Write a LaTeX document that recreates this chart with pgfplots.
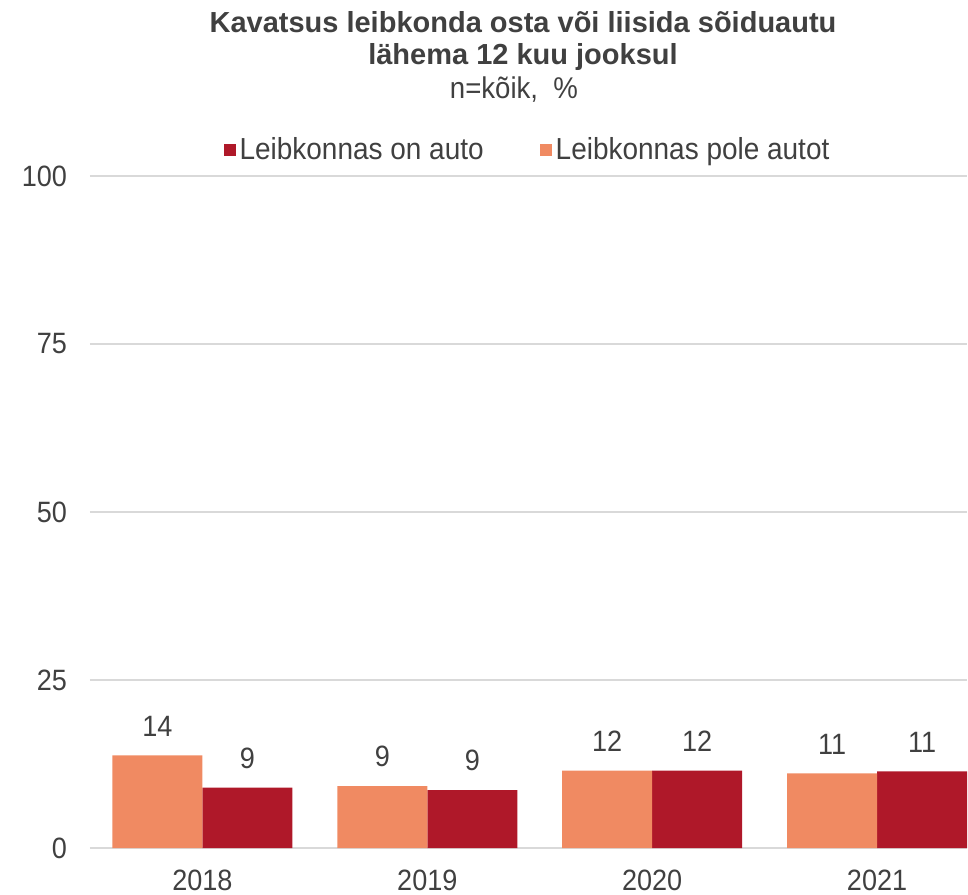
\documentclass[border=0pt]{standalone}
\usepackage{pgfplots}
\pgfplotsset{compat=1.18}
\usepackage{fontspec}
\setmainfont{Liberation Sans}
\newfontfamily\narrowfont{Liberation Sans}[FakeStretch=0.92]
\definecolor{salmon}{HTML}{F08A62}
\definecolor{dred}{HTML}{AF1829}
\definecolor{txt}{HTML}{404040}
\definecolor{gridc}{HTML}{D9D9D9}
\begin{document}
\begin{tikzpicture}
\useasboundingbox (-45pt,-23pt) rectangle (439pt,424pt);
\begin{axis}[
  at={(0,0)}, anchor=south west,
  scale only axis, width=438.5pt, height=336pt,
  xmin=-0.5, xmax=3.4, ymin=0, ymax=100,
  ytick={0,25,50,75,100},
  xtick={0,1,2,3}, xticklabels={2018,2019,2020,2021},
  major tick length=0pt,
  ymajorgrids, grid style={gridc, line width=1pt},
  axis line style={draw=none},
  /pgf/number format/assume math mode=true,
  tick label style={font=\narrowfont\fontsize{14.7}{17}\selectfont, text=txt},
  yticklabel style={xshift=-8pt},
  xticklabel style={yshift=-7.5pt},
  every node near coord/.append style={font=\narrowfont\fontsize{14.7}{17}\selectfont, text=txt, anchor=south, yshift=6pt},
  legend columns=2,
  legend style={at={(0.5,1.039)}, anchor=center, draw=none, fill=none, inner sep=0pt,
    font=\narrowfont\fontsize{15.2}{17}\selectfont, text=txt,
    /tikz/every even column/.append style={column sep=26pt}},
  legend image code/.code={\fill[#1] (-2pt,-3pt) rectangle (4pt,3pt);},
  clip=false,
]
\addplot[ybar, bar width=45pt, bar shift=22.5pt, fill=dred, draw=none,
  point meta=explicit symbolic, nodes near coords,
  every node near coord/.append style={xshift=22.5pt}]
  table[meta=l] {
x y l
0 9.0 9
1 8.6 9
2 11.5 12
3 11.4 11
};
\addlegendentry{Leibkonnas on auto}
\addplot[ybar, bar width=45pt, bar shift=-22.5pt, fill=salmon, draw=none,
  point meta=explicit symbolic, nodes near coords,
  every node near coord/.append style={xshift=-22.5pt}]
  table[meta=l] {
x y l
0 13.8 14
1 9.2 9
2 11.5 12
3 11.1 11
};
\addlegendentry{Leibkonnas pole autot}
\end{axis}
\node[font=\bfseries\fontsize{14.5}{17}\selectfont, text=txt] at (216.5pt,413pt) {Kavatsus leibkonda osta või liisida sõiduautu};
\node[font=\bfseries\fontsize{14.5}{17}\selectfont, text=txt] at (216.5pt,395.5pt) {lähema 12 kuu jooksul};
\node[font=\narrowfont\fontsize{15}{17}\selectfont, text=txt] at (212pt,379pt) {n=kõik,\ \ \%};
\end{tikzpicture}
\end{document}
